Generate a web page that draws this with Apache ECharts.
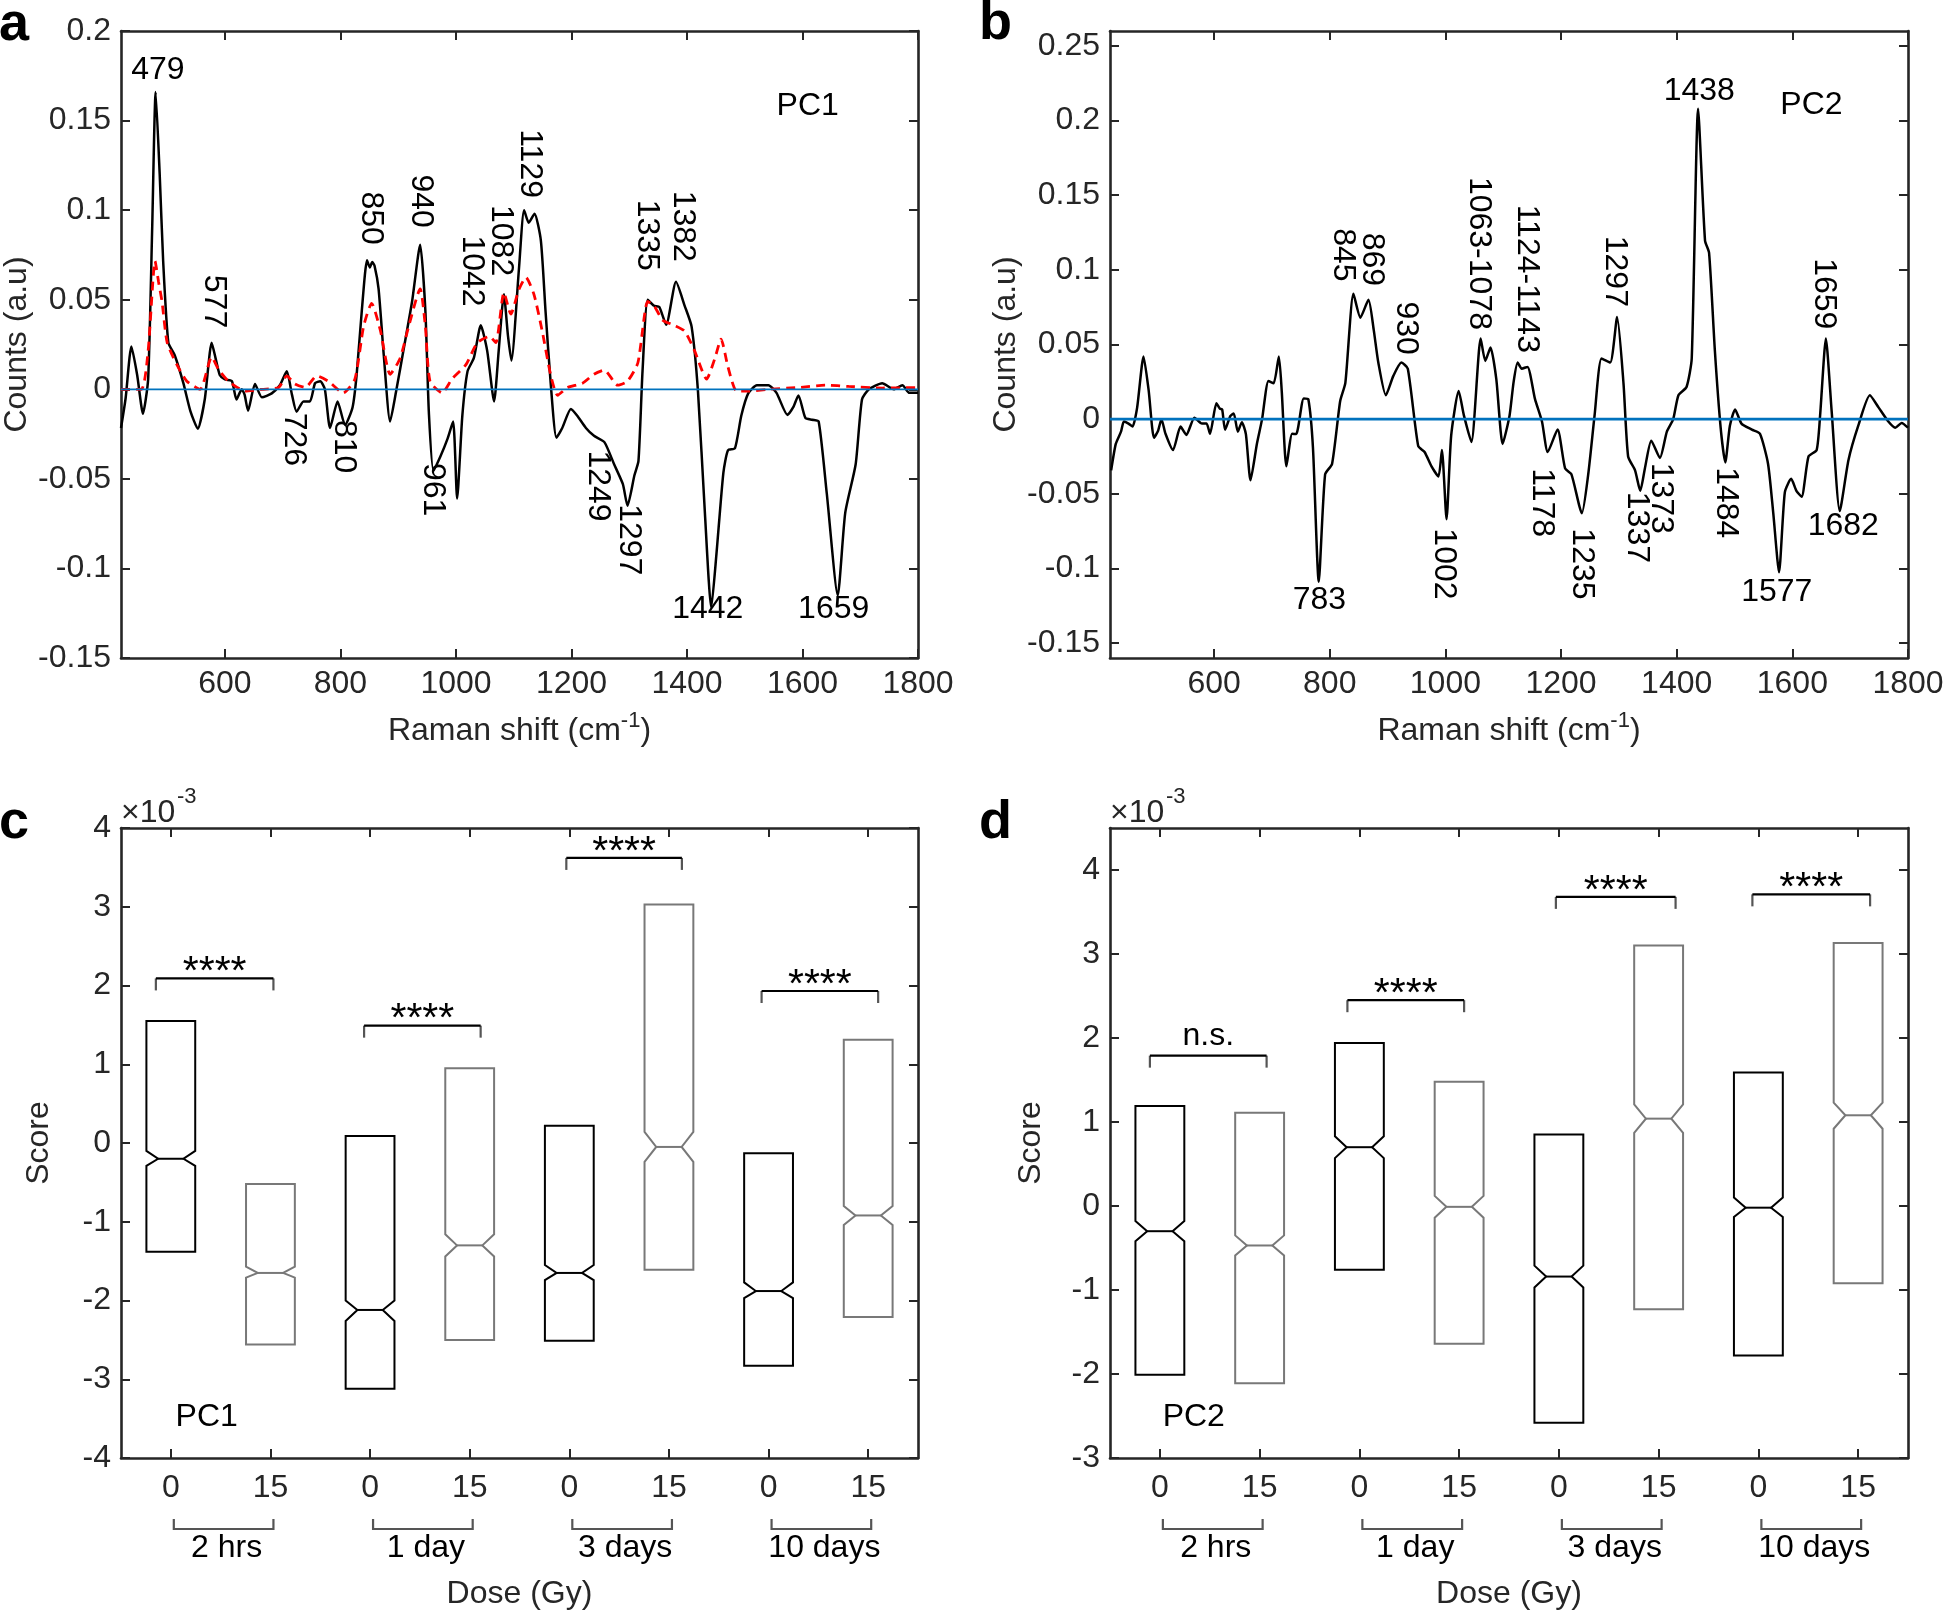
<!DOCTYPE html>
<html><head><meta charset="utf-8">
<script src="https://cdn.jsdelivr.net/npm/echarts@6/dist/echarts.min.js"></script>
<style>html,body{margin:0;padding:0;background:#fff}#c{width:1943px;height:1614px}</style>
</head><body><div id="c"></div>
<script>
// ---------- Panel a : PC1 loading (black), reference spectrum (red dashed) ----------
const pc1Loading = [[420,-0.0216],[428,-0.005],[438,0.0239],[448,0.008],[458,-0.0136],[467,0.0057],[474,0.09],[480,0.166],[487,0.12],[493,0.0716],[502,0.026],[513,0.019],[528,0.0034],[540,-0.012],[553,-0.022],[565,-0.0057],[577,0.026],[584,0.017],[591,0.008],[600,0.0055],[612,0.0045],[620,-0.0057],[629,0],[634,-0.003],[640,-0.012],[652,0.003],[664,-0.0045],[681,-0.0023],[695,0.0023],[707,0.010],[716,-0.003],[724,-0.0125],[736,-0.0068],[747,-0.0068],[756,0.0034],[765,0.0045],[773,0],[782,-0.0216],[795,-0.0068],[808,-0.02],[821,-0.010],[828,0.008],[837,0.044],[846,0.072],[851,0.068],[855,0.071],[859,0.069],[866,0.056],[875,0.019],[886,-0.018],[897,0],[909,0.0216],[924,0.049],[938,0.0807],[947,0.044],[953,-0.0125],[961,-0.0455],[973,-0.0375],[985,-0.028],[995,-0.018],[1002,-0.061],[1011,-0.0148],[1020,0.010],[1031,0.0175],[1043,0.0357],[1054,0.0216],[1066,-0.0068],[1074,0.0216],[1083,0.053],[1090,0.030],[1096,0.016],[1109,0.067],[1118,0.1],[1126,0.093],[1136,0.098],[1147,0.083],[1155,0.044],[1164,0.0034],[1174,-0.027],[1184,-0.0216],[1199,-0.011],[1210,-0.0148],[1225,-0.0216],[1239,-0.026],[1257,-0.0295],[1274,-0.042],[1289,-0.053],[1297,-0.065],[1309,-0.048],[1316,-0.040],[1323,0.010],[1332,0.050],[1343,0.0466],[1352,0.046],[1364,0.036],[1381,0.060],[1396,0.0466],[1408,0.035],[1419,-0.001],[1431,-0.069],[1442,-0.122],[1451,-0.092],[1463,-0.0466],[1471,-0.034],[1483,-0.033],[1494,-0.0148],[1506,-0.0023],[1521,0.0023],[1541,0.0023],[1555,-0.002],[1574,-0.0143],[1584,-0.010],[1593,-0.0034],[1605,-0.016],[1617,-0.017],[1628,-0.018],[1642,-0.058],[1661,-0.115],[1674,-0.069],[1692,-0.042],[1703,-0.0057],[1715,0],[1738,0.0034],[1758,0],[1773,0.0023],[1785,-0.002],[1800,-0.002]];
const pc1Reference = [[420,0],[455,0],[467,0.0216],[479,0.0716],[485,0.06],[491,0.049],[500,0.026],[517,0.0136],[534,0.0045],[557,0],[577,0.018],[589,0.011],[606,0.0045],[635,-0.001],[664,0],[693,0.001],[707,0.0075],[721,0.003],[739,0.001],[759,0.0075],[779,0.0045],[805,-0.002],[825,0.0057],[840,0.035],[854,0.048],[869,0.033],[886,0.0084],[903,0.017],[918,0.035],[938,0.056],[947,0.035],[955,0.0045],[976,-0.002],[993,0.0057],[1017,0.0136],[1037,0.026],[1058,0.0295],[1069,0.026],[1083,0.054],[1095,0.042],[1109,0.0557],[1121,0.0625],[1135,0.053],[1149,0.033],[1164,0.008],[1176,-0.0034],[1193,0.001],[1219,0.0034],[1239,0.0084],[1257,0.0107],[1280,0.0023],[1297,0.0045],[1315,0.0148],[1332,0.049],[1343,0.0466],[1358,0.0386],[1378,0.0357],[1396,0.0325],[1413,0.0216],[1434,0.0057],[1448,0.017],[1459,0.028],[1471,0.0125],[1486,-0.001],[1506,-0.001],[1541,0],[1593,0.001],[1640,0.0023],[1680,0.0016],[1738,0.0007],[1800,0.001]];
const peakLabelsA = [[484,0.178,'479',0],[580,0.049,'577',1],[719,-0.028,'726',1],[805,-0.032,'810',1],[852,0.0955,'850',1],[940,0.105,'940',1],[960,-0.056,'961',1],[1028,0.066,'1042',1],[1077,0.083,'1082',1],[1128,0.126,'1129',1],[1330,0.086,'1335',1],[1392,0.091,'1382',1],[1245,-0.054,'1249',1],[1300,-0.084,'1297',1],[1436,-0.123,'1442',0],[1654,-0.123,'1659',0],[1609,0.158,'PC1',0]];

// ---------- Panel b : PC2 loading ----------
const pc2Loading = [[422,-0.0343],[430,-0.0166],[439,-0.0084],[444,-0.0016],[452,-0.003],[459,-0.005],[467,0.0079],[478,0.042],[487,0.0188],[496,-0.0125],[503,-0.008],[509,0],[516,-0.0098],[529,-0.0207],[542,-0.005],[552,-0.0106],[566,0.001],[579,-0.003],[587,-0.003],[593,-0.0098],[604,0.0106],[610,0.007],[614,0.0065],[619,-0.0071],[628,0.002],[634,0.0038],[641,-0.0084],[648,-0.002],[655,-0.01],[663,-0.041],[674,-0.0166],[683,0],[694,0.0256],[703,0.024],[712,0.042],[717,0.0188],[725,-0.0316],[735,-0.0098],[742,-0.01],[755,0.0139],[763,0.0133],[771,-0.0193],[781,-0.109],[792,-0.037],[804,-0.030],[818,0.012],[827,0.0243],[841,0.084],[853,0.068],[867,0.080],[876,0.06],[884,0.0379],[897,0.016],[910,0.029],[924,0.0379],[935,0.0338],[953,-0.018],[964,-0.022],[976,-0.0316],[988,-0.0384],[994,-0.0207],[1002,-0.067],[1010,-0.011],[1023,0.0188],[1032,0.0025],[1045,-0.0153],[1061,0.054],[1069,0.039],[1078,0.048],[1088,0.027],[1099,-0.0166],[1111,0.0025],[1118,0.025],[1125,0.0379],[1132,0.0338],[1142,0.035],[1155,0.0134],[1167,-0.0016],[1177,-0.022],[1194,-0.007],[1207,-0.033],[1218,-0.037],[1236,-0.063],[1247,-0.037],[1258,0.0025],[1270,0.0406],[1285,0.0379],[1297,0.0684],[1308,0.024],[1316,-0.025],[1328,-0.0343],[1337,-0.048],[1345,-0.033],[1356,-0.0144],[1371,-0.026],[1383,-0.0084],[1394,0],[1403,0.016],[1417,0.0215],[1426,0.0406],[1437,0.208],[1449,0.1196],[1456,0.1114],[1466,0.046],[1476,-0.0057],[1484,-0.029],[1492,-0.0044],[1501,0.0065],[1512,-0.003],[1530,-0.007],[1544,-0.0098],[1558,-0.030],[1567,-0.063],[1577,-0.1025],[1587,-0.049],[1598,-0.040],[1607,-0.048],[1616,-0.052],[1628,-0.025],[1642,-0.0207],[1648,0.0025],[1658,0.054],[1668,0.0052],[1682,-0.0616],[1697,-0.0275],[1714,-0.0044],[1734,0.016],[1749,0.0079],[1766,-0.0016],[1778,-0.0057],[1789,-0.0025],[1800,-0.0057]];
const peakLabelsB = [[782,-0.121,'783',0],[823,0.110,'845',1],[873,0.107,'869',1],[931,0.061,'930',1],[998,-0.097,'1002',1],[1058,0.111,'1063-1078',1],[1141,0.094,'1124-1143',1],[1167,-0.056,'1178',1],[1236,-0.097,'1235',1],[1293,0.099,'1297',1],[1331,-0.0725,'1337',1],[1373,-0.053,'1373',1],[1485,-0.056,'1484',1],[1439,0.220,'1438',0],[1654,0.084,'1659',1],[1573,-0.116,'1577',0],[1688,-0.072,'1682',0],[1633,0.210,'PC2',0]];

const shiftTicks = [600,800,1000,1200,1400,1600,1800];
const countTicksA = [-0.15,-0.1,-0.05,0,0.05,0.1,0.15,0.2];
const countTicksB = [-0.15,-0.1,-0.05,0,0.05,0.1,0.15,0.2,0.25];

// ---------- Panels c, d : notched box plots of scores (x10^-3) ----------
const doseLabels = ['0','15','0','15','0','15','0','15'];
const timeLabels = ['2 hrs','1 day','3 days','10 days'];
const q3C = [1.55,-0.52,0.09,0.95,0.22,3.03,-0.13,1.31];
const q1C = [-1.38,-2.56,-3.12,-2.50,-2.51,-1.61,-2.83,-2.21];
const medC = [-0.20,-1.65,-2.12,-1.30,-1.65,-0.05,-1.88,-0.92];
const notchHiC = [-0.10,-1.57,-2.00,-1.16,-1.55,0.14,-1.77,-0.80];
const notchLoC = [-0.29,-1.71,-2.26,-1.44,-1.74,-0.24,-1.97,-1.04];
const q3D = [1.19,1.11,1.94,1.48,0.85,3.10,1.59,3.13];
const q1D = [-2.01,-2.11,-0.76,-1.64,-2.58,-1.23,-1.78,-0.92];
const medD = [-0.30,-0.47,0.70,-0.01,-0.84,1.04,-0.02,1.08];
const notchHiD = [-0.18,-0.35,0.83,0.12,-0.71,1.21,0.10,1.23];
const notchLoD = [-0.42,-0.59,0.57,-0.14,-0.97,0.87,-0.13,0.92];
const sigFromC = [0.85,2.94,4.97,6.93], sigToC = [2.03,4.11,6.13,8.10], sigYC = [2.09,1.49,3.62,1.93], sigTextC = ['****','****','****','****'];
const sigFromD = [0.90,2.88,4.97,6.94], sigToD = [2.07,4.05,6.17,8.12], sigYD = [1.79,2.45,3.68,3.71], sigTextD = ['n.s.','****','****','****'];
const scoreTicksC = [-4,-3,-2,-1,0,1,2,3,4];
const scoreTicksD = [-3,-2,-1,0,1,2,3,4];
const tagC = [1.36,-3.48,'PC1'], tagD = [1.34,-2.51,'PC2'];

const FF = "'Liberation Sans', Arial, Helvetica, sans-serif";
const TC = '#262626';
const FS = 32;

function valueAxis(grid, pos, min, max, ticks, showLabel, name, nameGap) {
  const ax = {
    gridIndex: grid, type: 'value', position: pos, min: min, max: max,
    axisLine: {show: true, onZero: false, lineStyle: {color: TC, width: 2.6}},
    axisTick: {show: true, inside: true, length: 9, customValues: ticks, lineStyle: {color: TC, width: 2}},
    axisLabel: {show: showLabel, customValues: ticks, margin: 10, fontSize: FS, color: TC, fontFamily: FF,
      formatter: v => String(Math.round(v * 1000) / 1000)},
    splitLine: {show: false}
  };
  if (name) {
    ax.name = name; ax.nameLocation = 'middle'; ax.nameGap = nameGap;
    ax.nameTextStyle = {fontSize: FS, color: TC, fontFamily: FF,
      rich: {sup: {fontSize: 22, color: TC, fontFamily: FF, verticalAlign: 'top', padding: [0, 0, 20, 0]}}};
  }
  return ax;
}
function catAxis(grid, pos, showLabel, name) {
  const ax = {
    gridIndex: grid, type: 'category', position: pos, data: doseLabels, boundaryGap: true,
    axisLine: {show: true, onZero: false, lineStyle: {color: TC, width: 2.6}},
    axisTick: {show: true, inside: true, length: 9, alignWithLabel: true, interval: 0, lineStyle: {color: TC, width: 2}},
    axisLabel: {show: showLabel, interval: 0, margin: 14, fontSize: FS, color: TC, fontFamily: FF},
    splitLine: {show: false}
  };
  if (name) {
    ax.name = name; ax.nameLocation = 'middle'; ax.nameGap = 120;
    ax.nameTextStyle = {fontSize: FS, color: TC, fontFamily: FF};
  }
  return ax;
}

function peakRender(list) {
  return function (params, api) {
    const it = list[params.dataIndex];
    const p = api.coord([it[0], it[1]]);
    return {type: 'text', x: p[0], y: p[1], rotation: it[3] ? -Math.PI / 2 : 0,
      style: {text: it[2], fill: '#000', fontSize: FS, fontFamily: FF, align: 'center', verticalAlign: 'middle'}};
  };
}
function boxRender(params, api) {
  const i = api.value(0);
  const q1 = api.value(1), q3 = api.value(2), med = api.value(3), nLo = api.value(4), nHi = api.value(5);
  const c = api.coord([i, med]);
  const bw = api.size([1, 0])[0] * 0.49;
  const L = c[0] - bw / 2, R = c[0] + bw / 2, d = bw * 0.24;
  const y3 = api.coord([i, q3])[1], y1 = api.coord([i, q1])[1];
  const yh = api.coord([i, nHi])[1], yl = api.coord([i, nLo])[1];
  const color = doseLabels[i] === '0' ? '#000000' : '#787878';
  return {type: 'group', children: [
    {type: 'polygon', shape: {points: [[L, y3], [R, y3], [R, yh], [R - d, c[1]], [R, yl], [R, y1], [L, y1], [L, yl], [L + d, c[1]], [L, yh]]},
      style: {fill: 'none', stroke: color, lineWidth: 2}},
    {type: 'line', shape: {x1: L + d, y1: c[1], x2: R - d, y2: c[1]}, style: {stroke: color, lineWidth: 2}}
  ]};
}
function sigRender(from, to, ys, texts) {
  return function (params, api) {
    const i = params.dataIndex;
    const bw = api.size([1, 0])[0];
    const c0 = api.coord([0, ys[i]]);
    const xl = c0[0] + (from[i] - 1) * bw, xr = c0[0] + (to[i] - 1) * bw, y = c0[1];
    const star = texts[i] !== 'n.s.';
    return {type: 'group', children: [
      {type: 'polyline', shape: {points: [[xl, y + 12], [xl, y]]}, style: {stroke: '#555', lineWidth: 2.2, fill: null}},
      {type: 'polyline', shape: {points: [[xr, y + 12], [xr, y]]}, style: {stroke: '#555', lineWidth: 2.2, fill: null}},
      {type: 'line', shape: {x1: xl, y1: y, x2: xr, y2: y}, style: {stroke: '#000', lineWidth: 2.2}},
      {type: 'text', x: (xl + xr) / 2, y: star ? y + 15 : y - 3,
        style: {text: texts[i], fill: '#000', fontSize: star ? 41 : FS, fontFamily: FF, align: 'center', verticalAlign: 'bottom'}}
    ]};
  };
}
function groupRender(yMin) {
  return function (params, api) {
    const i = params.dataIndex;
    const a = api.coord([2 * i, yMin]), b = api.coord([2 * i + 1, yMin]);
    const y = a[1];
    return {type: 'group', children: [
      {type: 'polyline', shape: {points: [[a[0] + 3, y + 61], [a[0] + 3, y + 71], [b[0] + 3, y + 71], [b[0] + 3, y + 61]]},
        style: {stroke: '#555', lineWidth: 2.2, fill: null}},
      {type: 'text', x: (a[0] + b[0]) / 2 + 6, y: y + 90,
        style: {text: timeLabels[i], fill: '#000', fontSize: FS, fontFamily: FF, align: 'center', verticalAlign: 'middle'}}
    ]};
  };
}
function tagRender(tag) {
  return function (params, api) {
    const bw = api.size([1, 0])[0];
    const c0 = api.coord([0, tag[1]]);
    return {type: 'text', x: c0[0] + (tag[0] - 1) * bw, y: c0[1],
      style: {text: tag[2], fill: '#000', fontSize: FS, fontFamily: FF, align: 'center', verticalAlign: 'middle'}};
  };
}
function boxData(q1, q3, med, lo, hi) { return q1.map((v, i) => [i, q1[i], q3[i], med[i], lo[i], hi[i]]); }

const xName = 'Raman shift (cm{sup|-1})';
const option = {
  backgroundColor: '#ffffff',
  animation: false,
  grid: [
    {left: 121, top: 31, width: 797, height: 627, outerBoundsMode: 'none'},
    {left: 1110, top: 31, width: 798, height: 627, outerBoundsMode: 'none'},
    {left: 121, top: 828, width: 797, height: 630, outerBoundsMode: 'none'},
    {left: 1110, top: 828, width: 798, height: 630, outerBoundsMode: 'none'}
  ],
  xAxis: [
    valueAxis(0, 'bottom', 420, 1800, shiftTicks, true, xName, 52),
    valueAxis(0, 'top', 420, 1800, shiftTicks, false),
    valueAxis(1, 'bottom', 420, 1800, shiftTicks, true, xName, 52),
    valueAxis(1, 'top', 420, 1800, shiftTicks, false),
    catAxis(2, 'bottom', true, 'Dose (Gy)'),
    catAxis(2, 'top', false),
    catAxis(3, 'bottom', true, 'Dose (Gy)'),
    catAxis(3, 'top', false)
  ],
  yAxis: [
    valueAxis(0, 'left', -0.15, 0.2, countTicksA, true, 'Counts (a.u)', 88),
    valueAxis(0, 'right', -0.15, 0.2, countTicksA, false),
    valueAxis(1, 'left', -0.16, 0.26, countTicksB, true, 'Counts (a.u)', 88),
    valueAxis(1, 'right', -0.16, 0.26, countTicksB, false),
    valueAxis(2, 'left', -4, 4, scoreTicksC, true, 'Score', 66),
    valueAxis(2, 'right', -4, 4, scoreTicksC, false),
    valueAxis(3, 'left', -3, 4.5, scoreTicksD, true, 'Score', 63),
    valueAxis(3, 'right', -3, 4.5, scoreTicksD, false)
  ],
  series: [
    {type: 'line', xAxisIndex: 0, yAxisIndex: 0, data: pc1Loading, showSymbol: false, smooth: 0.2,
      lineStyle: {color: '#000', width: 2.5}, z: 2},
    {type: 'line', xAxisIndex: 0, yAxisIndex: 0, data: pc1Reference, showSymbol: false, smooth: 0.2,
      lineStyle: {color: '#ff0000', width: 2.8, type: [9, 6]}, z: 3},
    {type: 'line', xAxisIndex: 0, yAxisIndex: 0, data: [[420, 0], [1800, 0]], showSymbol: false,
      lineStyle: {color: '#0072BD', width: 1.8}, z: 4},
    {type: 'custom', xAxisIndex: 0, yAxisIndex: 0, clip: false, data: peakLabelsA.map(p => [p[0], p[1]]),
      renderItem: peakRender(peakLabelsA), z: 5},

    {type: 'line', xAxisIndex: 2, yAxisIndex: 2, data: pc2Loading, showSymbol: false, smooth: 0.2,
      lineStyle: {color: '#000', width: 2.5}, z: 2},
    {type: 'line', xAxisIndex: 2, yAxisIndex: 2, data: [[420, 0], [1800, 0]], showSymbol: false,
      lineStyle: {color: '#0072BD', width: 2.8}, z: 4},
    {type: 'custom', xAxisIndex: 2, yAxisIndex: 2, clip: false, data: peakLabelsB.map(p => [p[0], p[1]]),
      renderItem: peakRender(peakLabelsB), z: 5},

    {type: 'custom', xAxisIndex: 4, yAxisIndex: 4, clip: false, encode: {x: 0, y: [1, 2, 3, 4, 5]},
      data: boxData(q1C, q3C, medC, notchLoC, notchHiC), renderItem: boxRender},
    {type: 'custom', xAxisIndex: 4, yAxisIndex: 4, clip: false, data: sigYC.map(y => [0, y]),
      renderItem: sigRender(sigFromC, sigToC, sigYC, sigTextC)},
    {type: 'custom', xAxisIndex: 4, yAxisIndex: 4, clip: false, data: timeLabels.map((t, i) => [2 * i, -4]),
      renderItem: groupRender(-4)},
    {type: 'custom', xAxisIndex: 4, yAxisIndex: 4, clip: false, data: [[0, tagC[1]]], renderItem: tagRender(tagC)},

    {type: 'custom', xAxisIndex: 6, yAxisIndex: 6, clip: false, encode: {x: 0, y: [1, 2, 3, 4, 5]},
      data: boxData(q1D, q3D, medD, notchLoD, notchHiD), renderItem: boxRender},
    {type: 'custom', xAxisIndex: 6, yAxisIndex: 6, clip: false, data: sigYD.map(y => [0, y]),
      renderItem: sigRender(sigFromD, sigToD, sigYD, sigTextD)},
    {type: 'custom', xAxisIndex: 6, yAxisIndex: 6, clip: false, data: timeLabels.map((t, i) => [2 * i, -3]),
      renderItem: groupRender(-3)},
    {type: 'custom', xAxisIndex: 6, yAxisIndex: 6, clip: false, data: [[0, tagD[1]]], renderItem: tagRender(tagD)}
  ],
  graphic: [
    {type: 'text', x: -1, y: 25, style: {text: 'a', font: 'bold 54px ' + FF, fill: '#000', verticalAlign: 'middle'}},
    {type: 'text', x: 979, y: 24, style: {text: 'b', font: 'bold 54px ' + FF, fill: '#000', verticalAlign: 'middle'}},
    {type: 'text', x: -1, y: 823, style: {text: 'c', font: 'bold 54px ' + FF, fill: '#000', verticalAlign: 'middle'}},
    {type: 'text', x: 979, y: 823, style: {text: 'd', font: 'bold 54px ' + FF, fill: '#000', verticalAlign: 'middle'}},
    {type: 'text', x: 121, y: 813, style: {text: '\u00d710', font: '32px ' + FF, fill: TC, verticalAlign: 'middle'}},
    {type: 'text', x: 177, y: 797, style: {text: '-3', font: '22px ' + FF, fill: TC, verticalAlign: 'middle'}},
    {type: 'text', x: 1110, y: 813, style: {text: '\u00d710', font: '32px ' + FF, fill: TC, verticalAlign: 'middle'}},
    {type: 'text', x: 1166, y: 797, style: {text: '-3', font: '22px ' + FF, fill: TC, verticalAlign: 'middle'}}
  ]
};
const chart = echarts.init(document.getElementById('c'), null, {renderer: 'canvas'});
chart.setOption(option);
</script>
</body></html>
